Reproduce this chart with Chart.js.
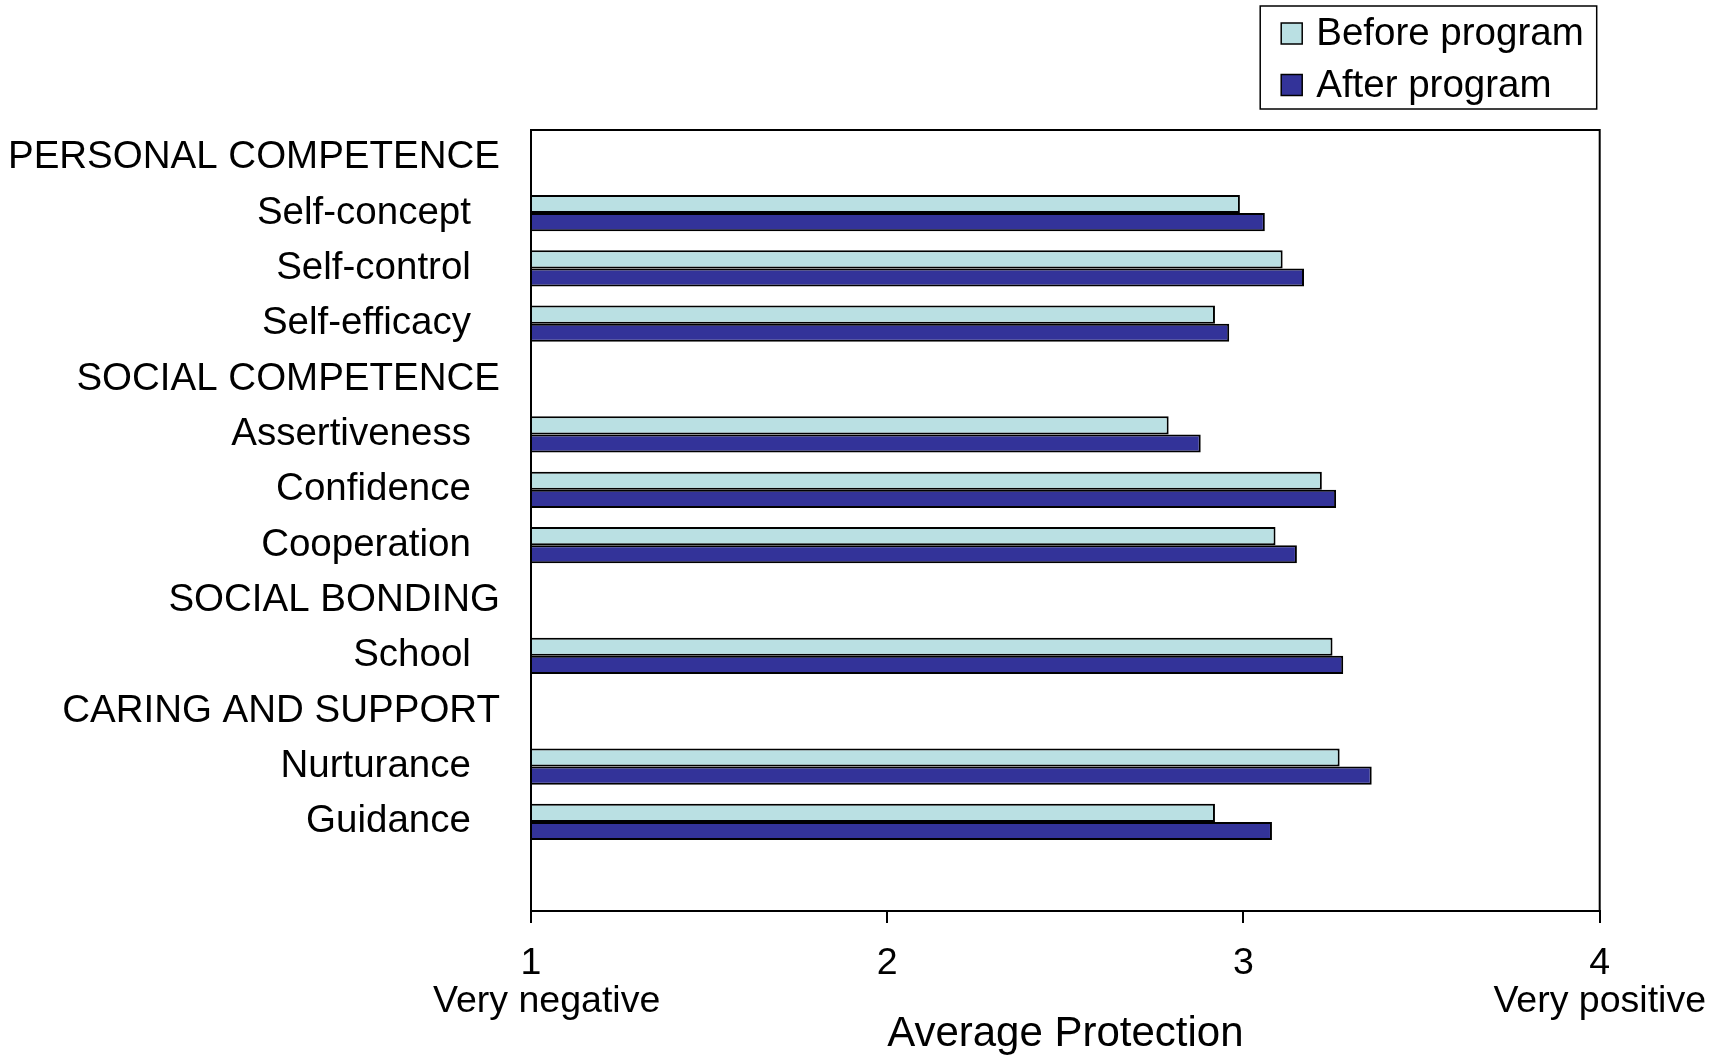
<!DOCTYPE html>
<html>
<head>
<meta charset="utf-8">
<script src="https://cdn.jsdelivr.net/npm/chart.js@4/dist/chart.umd.min.js"></script>
<style>
  html, body { margin: 0; padding: 0; background: #fff; }
  canvas { display: block; }
</style>
</head>
<body>
<canvas id="chart" width="1727" height="1055"></canvas>
<script>
// Data (headers and the trailing blank row have no bars)
const categories = [
  'PERSONAL COMPETENCE', 'Self-concept', 'Self-control', 'Self-efficacy',
  'SOCIAL COMPETENCE', 'Assertiveness', 'Confidence', 'Cooperation',
  'SOCIAL BONDING', 'School',
  'CARING AND SUPPORT', 'Nurturance', 'Guidance',
  ''
];
const beforeProgram = [null, 2.99, 3.11, 2.92, null, 2.79, 3.22, 3.09, null, 3.25, null, 3.27, 2.92, null];
const afterProgram  = [null, 3.06, 3.17, 2.96, null, 2.88, 3.26, 3.15, null, 3.28, null, 3.36, 3.08, null];
const seriesNames = ['Before program', 'After program'];
// the leading spaces nudge the second line a bit right of the tick, as in the original
const tickLabels = { 1: ['1', '   Very negative'], 2: '2', 3: '3', 4: ['4', 'Very positive'] };
const axisTitle = 'Average Protection';

const FONT = '"Liberation Sans", Arial, sans-serif';

// row positions on the category axis (the original leaves a little extra room below the last row)
const rowIndex = categories.map((c, i) => i);

// box round the whole plot area (top and right sides too)
const plotFrame = {
  id: 'plotFrame',
  afterDatasetsDraw(chart) {
    const { ctx, chartArea: a } = chart;
    ctx.save();
    ctx.strokeStyle = '#000';
    ctx.lineWidth = 2;
    ctx.strokeRect(a.left, a.top, a.right - a.left, a.bottom - a.top);
    ctx.restore();
  }
};

// legend stacked in a bordered box, top right
const boxLegend = {
  id: 'boxLegend',
  afterDraw(chart) {
    const ctx = chart.ctx;
    const ds = chart.data.datasets;
    ctx.save();
    ctx.font = '38.5px ' + FONT;
    const textW = Math.max(...ds.map(d => ctx.measureText(d.label).width));
    const sw = 21, rowH = 51.5, top = 6;
    const boxW = 21 + sw + 14 + textW + 13;
    const right = chart.chartArea.right - 3;
    const left = right - boxW;
    ctx.strokeStyle = '#000';
    ctx.lineWidth = 1.5;
    ctx.strokeRect(left, top, boxW, rowH * ds.length);
    ds.forEach((d, i) => {
      const cy = top + 27.5 + i * rowH;
      ctx.fillStyle = d.backgroundColor;
      ctx.fillRect(left + 21, cy - sw / 2, sw, sw);
      ctx.strokeRect(left + 21, cy - sw / 2, sw, sw);
      ctx.fillStyle = '#000';
      ctx.textBaseline = 'middle';
      ctx.textAlign = 'left';
      ctx.fillText(d.label, left + 21 + sw + 14, cy + 1);
    });
    ctx.restore();
  }
};

new Chart(document.getElementById('chart'), {
  type: 'bar',
  data: {
    labels: rowIndex,
    datasets: [{
      label: seriesNames[0],
      data: beforeProgram,
      backgroundColor: '#BAE0E3',
      borderColor: '#000',
      borderWidth: 2,
      base: 1
    }, {
      label: seriesNames[1],
      data: afterProgram,
      backgroundColor: '#333399',
      borderColor: '#000',
      borderWidth: 2,
      base: 1
    }]
  },
  options: {
    indexAxis: 'y',
    responsive: false,
    animation: false,
    devicePixelRatio: 1,
    categoryPercentage: 0.655,
    barPercentage: 1.0,
    layout: { padding: { top: 130, right: 124, bottom: 0, left: 0 } },
    plugins: {
      legend: { display: false },
      tooltip: { enabled: false }
    },
    scales: {
      y: {
        type: 'linear',
        reverse: true,
        offset: false,
        min: -0.5,
        max: 13.61,
        grid: { display: false, drawTicks: false, offset: false },
        border: { display: true, color: '#000', width: 2 },
        ticks: {
          stepSize: 1,
          includeBounds: false,
          autoSkip: false,
          color: '#000',
          padding: 31,
          font: { family: FONT, size: 38.5 },
          callback: function (v) {
            const lab = Number.isInteger(v) ? (categories[v] || '') : '';
            // sub-items sit a little further left than the group headers
            return (lab === '' || lab === lab.toUpperCase()) ? lab : lab + '  \u2009';
          }
        },
        afterFit(s) { s.width = 531; }
      },
      x: {
        type: 'linear',
        min: 1,
        max: 4,
        grid: { drawOnChartArea: false, drawTicks: true, tickLength: 12, color: '#000', lineWidth: 2 },
        border: { display: true, color: '#000', width: 2 },
        ticks: {
          stepSize: 1,
          color: '#000',
          maxRotation: 0,
          padding: 21,
          font: { family: FONT, size: 37.5, lineHeight: 1.03 },
          callback: v => tickLabels[v]
        },
        title: {
          display: true,
          text: axisTitle,
          color: '#000',
          font: { family: FONT, size: 42, lineHeight: 1.0 },
          padding: { top: 0, bottom: 0 }
        },
        afterFit(s) { s.height = 144; }
      }
    }
  },
  plugins: [plotFrame, boxLegend]
});
</script>
</body>
</html>
